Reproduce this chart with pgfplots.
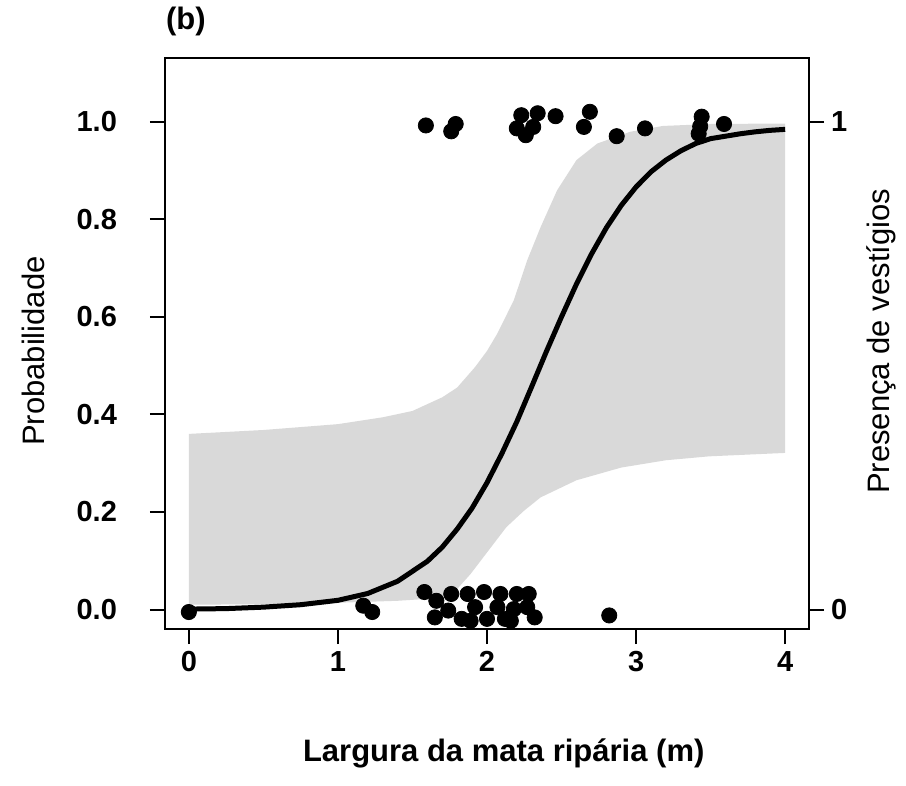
\documentclass[border=0pt]{standalone}
\usepackage{pgfplots}
\pgfplotsset{compat=1.18}
\usepackage{fontspec}
\setmainfont{Liberation Sans}
\definecolor{band}{HTML}{D9D9D9}
\newcommand{\fs}{\fontsize{15.5}{18}\selectfont}
\newcommand{\ts}{\fontsize{14.5}{17}\selectfont}

\pgfplotsset{
  common/.style={
    scale only axis, width=322pt, height=285.5pt,
    xmin=-0.16, xmax=4.16, ymin=-0.04, ymax=1.13,
    tick align=outside, major tick length=7.5pt,
    tick style={line width=1pt, black},
    ticklabel style={font=\ts\bfseries},
    axis line style={line width=1pt},
  }
}

\begin{document}
\begin{tikzpicture}
\begin{axis}[common, name=main,
  xtick={0,1,2,3,4}, xticklabels={0,1,2,3,4},
  ytick={0,0.2,0.4,0.6,0.8,1}, yticklabels={0.0,0.2,0.4,0.6,0.8,1.0},
  yticklabel style={xshift=-13pt},
  xtick pos=lower, ytick pos=left,
  xlabel={Largura da mata ripária (m)},
  xlabel style={font=\fs\bfseries, at={(axis description cs:0.526,-0.217)}, anchor=center},
  ylabel={Probabilidade},
  ylabel style={font=\fs, at={(axis description cs:-0.205,0.487)}, anchor=center},
]
% confidence band: upper edge left to right, lower edge right to left
\addplot[fill=band, draw=none] coordinates {
  (0.00,0.360) (0.50,0.368) (1.00,0.380) (1.30,0.394) (1.50,0.407)
  (1.70,0.435) (1.80,0.455) (1.92,0.497) (2.00,0.530) (2.07,0.566)
  (2.18,0.634) (2.27,0.716) (2.36,0.784) (2.47,0.859) (2.60,0.921)
  (2.74,0.955) (2.96,0.979) (3.18,0.991) (3.50,0.995) (4.00,0.996)
  (4.00,0.321) (3.49,0.314) (3.20,0.306) (2.90,0.291) (2.60,0.265)
  (2.36,0.230) (2.25,0.203) (2.13,0.169) (2.01,0.121) (1.89,0.073)
  (1.77,0.032) (1.60,0.022) (1.40,0.018) (1.00,0.014) (0.50,0.011)
  (0.00,0.010)
} -- cycle;
% fitted curve
\addplot[black, line width=2.5pt, no markers] coordinates {
  (0.00,0.001) (0.25,0.002) (0.50,0.005) (0.75,0.010) (1.00,0.019)
  (1.20,0.033) (1.40,0.058) (1.60,0.099) (1.70,0.128) (1.80,0.165)
  (1.90,0.208) (2.00,0.260) (2.10,0.320) (2.20,0.385) (2.30,0.457)
  (2.40,0.530) (2.50,0.600) (2.60,0.667) (2.70,0.728) (2.80,0.782)
  (2.90,0.828) (3.00,0.866) (3.10,0.897) (3.20,0.921) (3.30,0.940)
  (3.40,0.955) (3.50,0.965) (3.60,0.970) (3.70,0.975) (3.80,0.979)
  (3.90,0.982) (4.00,0.984)
};
% observations (jittered)
\addplot[only marks, mark=*, mark size=3.8pt, black] coordinates {
  (1.59,0.992) (1.76,0.980) (1.79,0.995) (2.20,0.986) (2.23,1.013)
  (2.26,0.972) (2.31,0.989) (2.34,1.017) (2.46,1.011) (2.65,0.989)
  (2.69,1.020) (2.87,0.970) (3.06,0.986) (3.42,0.975) (3.43,0.990)
  (3.44,1.010) (3.59,0.995)
  (0.00,-0.005) (1.17,0.008) (1.23,-0.005) (1.58,0.036) (1.66,0.018)
  (1.65,-0.016) (1.76,0.032) (1.74,-0.002) (1.83,-0.019) (1.87,0.032)
  (1.92,0.005) (1.89,-0.023) (1.98,0.036) (2.00,-0.019) (2.09,0.032)
  (2.07,0.005) (2.12,-0.019) (2.20,0.032) (2.18,0.001) (2.16,-0.023)
  (2.28,0.032) (2.27,0.005) (2.32,-0.016) (2.82,-0.012)
};
\end{axis}
\begin{axis}[common,
  axis x line=none, axis y line*=right,
  ytick={0,1}, yticklabels={0,1},
  ylabel={Presença de vestígios},
  ylabel style={font=\fs, at={(axis description cs:1.113,0.504)}, anchor=center},
]
\end{axis}
\node[anchor=west, font=\fs\bfseries] at ([shift={(-3pt,18.5pt)}]main.north west) {(b)};
\path ([shift={(-82.5pt,-78pt)}]main.south west) rectangle ([shift={(48.5pt,28.5pt)}]main.north east);
\end{tikzpicture}
\end{document}
